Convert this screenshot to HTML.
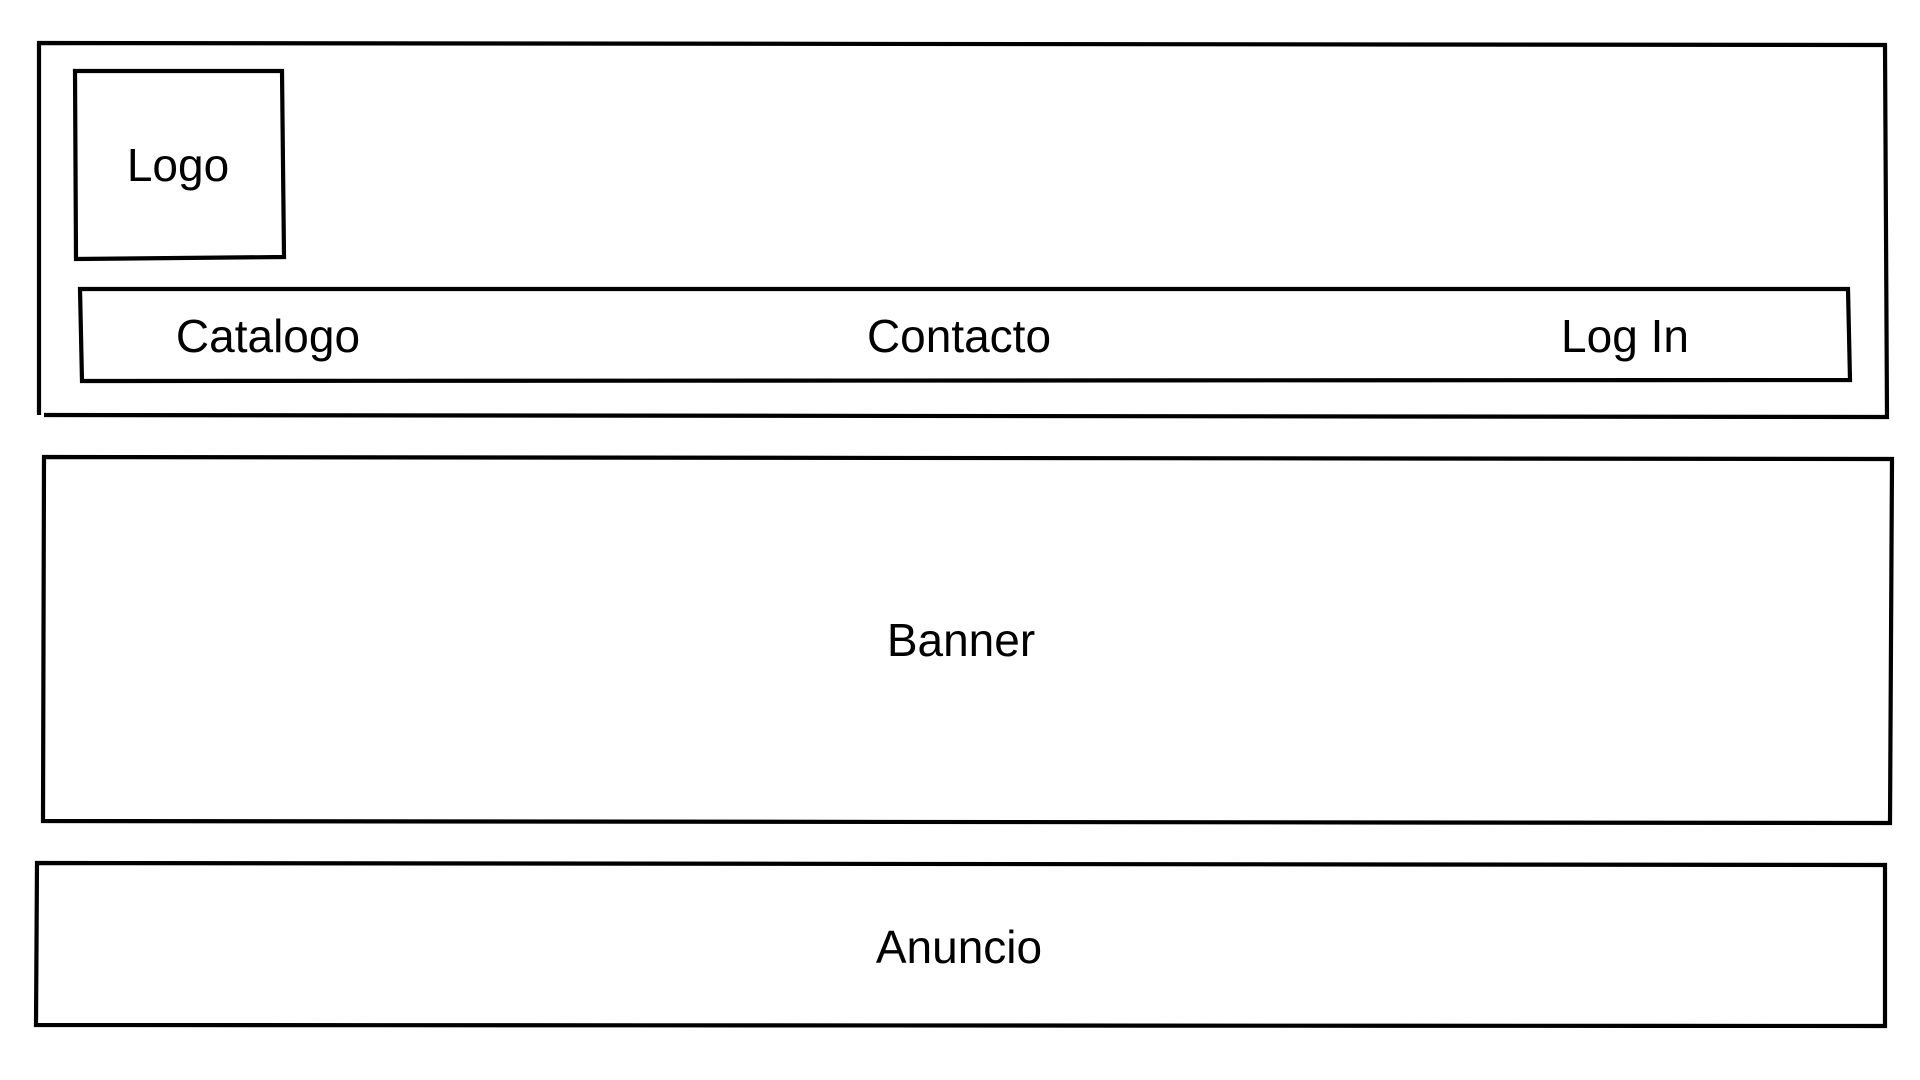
<!DOCTYPE html>
<html><head><meta charset="utf-8"><style>html,body{margin:0;padding:0;background:#fff;}svg{display:block}</style></head>
<body>
<svg width="1920" height="1080" viewBox="0 0 1920 1080" xmlns="http://www.w3.org/2000/svg">
<g fill="none" stroke="#000" stroke-width="4.2" stroke-linejoin="miter">
<path d="M39,415 L39,43 L1885,45 L1887,417 L44,415"/>
<polygon points="75,71 282,71 284,257 76,259"/>
<polygon points="80,289 1848,289 1850,380 82,381"/>
<polygon points="44,457 1892,459 1890,823 43,821"/>
<polygon points="37,863 1885,865 1885,1026 36,1025"/>
</g>
<g font-family="Liberation Sans, sans-serif" font-size="46" fill="#000" text-anchor="middle">
<text x="178" y="181">Logo</text>
<text x="268" y="352">Catalogo</text>
<text x="959" y="352">Contacto</text>
<text x="1625" y="352">Log In</text>
<text x="961" y="656">Banner</text>
<text x="959" y="963">Anuncio</text>
</g>
</svg>
</body></html>
